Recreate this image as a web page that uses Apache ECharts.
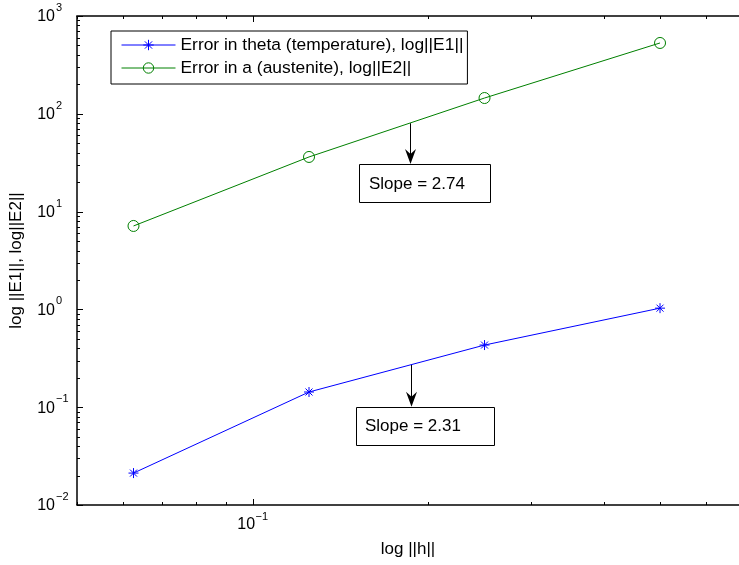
<!DOCTYPE html>
<html>
<head>
<meta charset="utf-8">
<script src="https://cdn.jsdelivr.net/npm/echarts@6/dist/echarts.min.js"></script>
<style>
  html, body { margin: 0; padding: 0; background: #fff; }
  #chart { width: 739px; height: 565px; }
</style>
</head>
<body>
<div id="chart"></div>
<script>
// Convergence of the discretisation error against mesh size (log-log)
const meshSize     = [0.0625, 0.125, 0.25, 0.5];
const errTheta     = [0.0212, 0.143, 0.432, 1.03];
const errAustenite = [7.13, 36.2, 145, 530];
const seriesNames  = ['Error in theta (temperature), log||E1||', 'Error in a (austenite), log||E2||'];

// visible part of the axes (the right border lies just past the canvas edge)
const xRange = [0.05, 0.683];
const yRange = [0.01, 1000];
const xMajorTicks = [0.1];
const xMinorTicks = [0.05, 0.06, 0.07, 0.08, 0.09, 0.2, 0.3, 0.4, 0.5, 0.6];
const yMajorTicks = [0.01, 0.1, 1, 10, 100, 1000];
const yMinorTicks = [];
for (let k = -2; k <= 2; k++) for (let m = 2; m <= 9; m++) yMinorTicks.push(m * Math.pow(10, k));

// Slope annotations (text arrows), anchored in data coordinates
const slopeLabels   = ['Slope = 2.31', 'Slope = 2.74'];
const slopeArrowX   = [0.1873, 0.186];
const slopeArrowTip = [0.101, 30.7];

const FONT = '"Liberation Sans", Arial, Helvetica, sans-serif';
const BLUE = '#0000ff';
const GREEN = '#008000';
const ASTERISK = 'path://M5,0L5,10M0,5L10,5M1.5,1.5L8.5,8.5M1.5,8.5L8.5,1.5';

const chart = echarts.init(document.getElementById('chart'), null, { renderer: 'canvas' });

const option = {
  animation: false,
  backgroundColor: '#fff',
  grid: { left: 75, top: 16, right: 0, height: 489, show: false },
  xAxis: {
    type: 'log', logBase: 10, min: xRange[0], max: xRange[1],
    name: 'log ||h||', nameLocation: 'middle', nameGap: 36,
    nameTextStyle: { fontFamily: FONT, fontSize: 17, color: '#000' },
    axisLine: { show: false }, axisTick: { show: false },
    axisLabel: { show: false }, splitLine: { show: false }
  },
  yAxis: {
    type: 'log', logBase: 10, min: yRange[0], max: yRange[1],
    name: 'log ||E1||, log||E2||', nameLocation: 'middle', nameGap: 52, nameRotate: 90,
    nameTextStyle: { fontFamily: FONT, fontSize: 17, color: '#000' },
    axisLine: { show: false }, axisTick: { show: false },
    axisLabel: { show: false }, splitLine: { show: false }
  },
  legend: {
    orient: 'vertical', left: 111, top: 31,
    backgroundColor: '#fff', borderColor: '#000', borderWidth: 1,
    padding: [4, 4, 6, 10],
    itemWidth: 54, itemHeight: 13, itemGap: 3,
    lineStyle: { width: 1 },
    itemStyle: { borderWidth: 1 },
    textStyle: { fontFamily: FONT, fontSize: 17.4, lineHeight: 20, color: '#000' },
    data: seriesNames
  },
  series: [
    {
      name: seriesNames[0], type: 'line',
      data: meshSize.map((h, i) => [h, errTheta[i]]),
      symbol: ASTERISK, symbolSize: 10,
      lineStyle: { color: BLUE, width: 1 },
      itemStyle: { color: 'rgba(0,0,0,0)', borderColor: BLUE, borderWidth: 1 },
      emphasis: { disabled: true }
    },
    {
      name: seriesNames[1], type: 'line',
      data: meshSize.map((h, i) => [h, errAustenite[i]]),
      symbol: 'circle', symbolSize: 11,
      lineStyle: { color: GREEN, width: 1 },
      itemStyle: { color: 'rgba(0,0,0,0)', borderColor: GREEN, borderWidth: 1 },
      emphasis: { disabled: true }
    }
  ]
};
chart.setOption(option);

// Box, ticks, tick labels and slope annotations, placed through the axes' own scales
const toPx = (x, y) => chart.convertToPixel({ gridIndex: 0 }, [x, y]);
const gx = v => toPx(v, yRange[0])[0];
const gy = v => toPx(xRange[0], v)[1];
const plotLeft = gx(xRange[0]), plotRight = gx(xRange[1]);
const plotBottom = gy(yRange[0]), plotTop = gy(yRange[1]);

const els = [];
const seg = (x1, y1, x2, y2, w) => els.push({
  type: 'line', silent: true,
  shape: { x1, y1, x2, y2 },
  style: { stroke: '#000', lineWidth: w || 1 }
});

// axes box: left, top and bottom edges
seg(plotLeft, plotTop, plotLeft, plotBottom, 1.5);
seg(plotLeft - 0.75, plotTop, plotRight + 2, plotTop, 1.5);
seg(plotLeft - 0.75, plotBottom, plotRight + 2, plotBottom, 1.5);

const MAJ = 6, MIN = 3;
xMajorTicks.forEach(v => { const x = Math.round(gx(v)) + 0.5; seg(x, plotBottom, x, plotBottom - MAJ); seg(x, plotTop, x, plotTop + MAJ); });
xMinorTicks.forEach(v => { const x = Math.round(gx(v)) + 0.5; seg(x, plotBottom, x, plotBottom - MIN); seg(x, plotTop, x, plotTop + MIN); });
yMajorTicks.forEach(v => { const y = Math.round(gy(v)) + 0.5; seg(plotLeft, y, plotLeft + MAJ, y); });
yMinorTicks.forEach(v => { const y = Math.round(gy(v)) + 0.5; seg(plotLeft, y, plotLeft + MIN, y); });

const expText = v => { const e = Math.round(Math.log10(v)); return (e < 0 ? '\u2212' : '') + Math.abs(e); };
const txt = (x, y, text, size, align, va) => els.push({
  type: 'text', silent: true, x, y,
  style: { text, fontFamily: FONT, fontSize: size, fill: '#000', align, verticalAlign: va || 'middle' }
});

yMajorTicks.forEach(v => {
  const y = gy(v);
  txt(plotLeft - 22, y + 1, '10', 16, 'right');
  txt(plotLeft - 21, y - 8, expText(v), 11, 'left');
});
xMajorTicks.forEach(v => {
  const x = gx(v);
  txt(x + 2.6, plotBottom + 20, '10', 16, 'right');
  txt(x + 3, plotBottom + 12, expText(v), 11, 'left');
});

// value of a series at x by straight-line interpolation in log-log space
function onLine(xs, ys, x) {
  for (let i = 0; i < xs.length - 1; i++) {
    if (x >= xs[i] && x <= xs[i + 1]) {
      const t = (Math.log10(x) - Math.log10(xs[i])) / (Math.log10(xs[i + 1]) - Math.log10(xs[i]));
      return Math.pow(10, Math.log10(ys[i]) + t * (Math.log10(ys[i + 1]) - Math.log10(ys[i])));
    }
  }
  return ys[0];
}
const seriesY = [errTheta, errAustenite];
const boxes = [{ dx: -56, w: 138, h: 38, pad: 9 }, { dx: -52, w: 131, h: 38, pad: 10 }];
slopeLabels.forEach((label, i) => {
  const start = toPx(slopeArrowX[i], onLine(meshSize, seriesY[i], slopeArrowX[i]));
  const tip = toPx(slopeArrowX[i], slopeArrowTip[i]);
  const ax = Math.round(tip[0]) + 0.5;
  const b = boxes[i];
  seg(ax, start[1], ax, tip[1] - 8);
  els.push({
    type: 'polygon', silent: true,
    shape: { points: [[ax, tip[1]], [ax - 5.5, tip[1] - 15], [ax, tip[1] - 10], [ax + 5.5, tip[1] - 15]] },
    style: { fill: '#000' }
  });
  els.push({
    type: 'rect', silent: true,
    shape: { x: Math.round(ax + b.dx) + 0.5, y: Math.round(tip[1]) + 0.5, width: b.w, height: b.h },
    style: { fill: '#fff', stroke: '#000', lineWidth: 1 }
  });
  txt(Math.round(ax + b.dx) + b.pad, tip[1] + b.h / 2 + 1, label, 17, 'left');
});

chart.setOption({ graphic: { elements: els } });
</script>
</body>
</html>
